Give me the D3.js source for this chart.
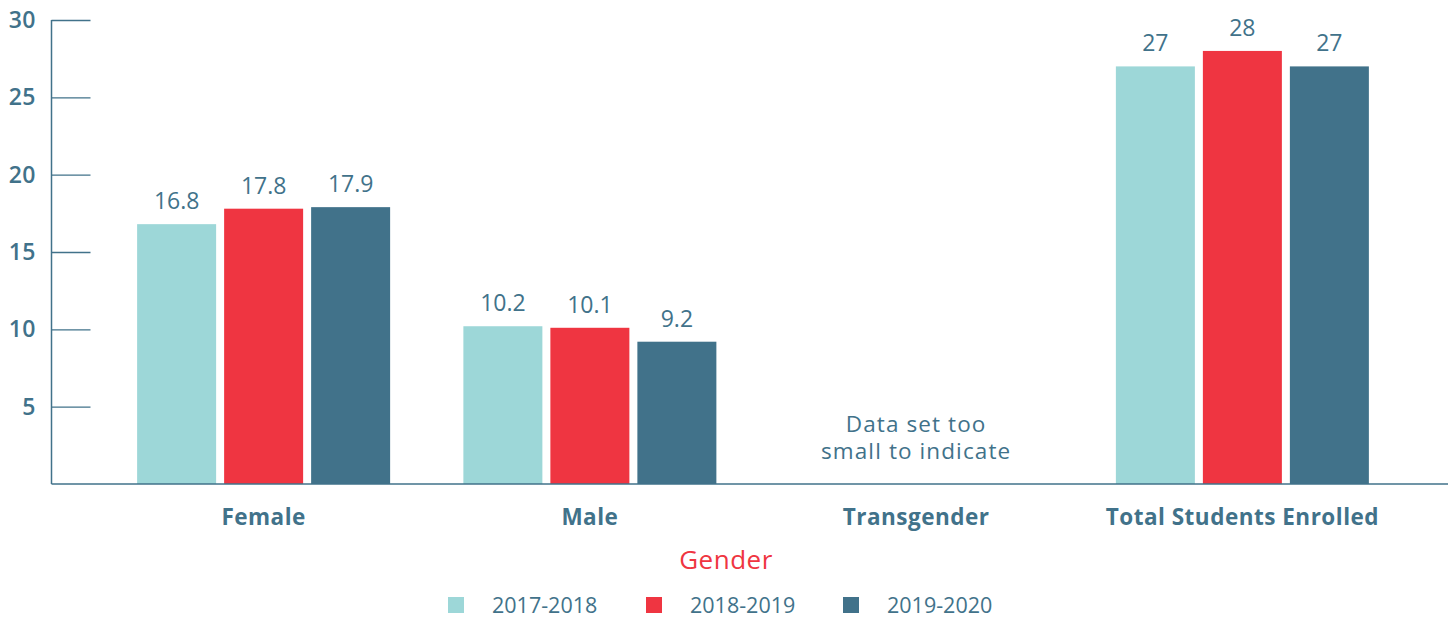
<!DOCTYPE html>
<meta charset="utf-8">
<script src="https://d3js.org/d3.v7.min.js"></script>
<style>
  body { margin: 0; background: #fff; }
  text { font-family: "Open Sans", "Lato", sans-serif; }
</style>
<body>
<div id="chart"></div>
<script>
// chart values
var categories = ["Female", "Male", "Transgender", "Total Students Enrolled"];
var years = ["2017-2018", "2018-2019", "2019-2020"];
var values2017 = [16.8, 10.2, null, 27];
var values2018 = [17.8, 10.1, null, 28];
var values2019 = [17.9, 9.2, null, 27];
var yTicks = [5, 10, 15, 20, 25, 30];
var noDataNote = ["Data set too", "small to indicate"];

var colors = ["#9dd7d8", "#ef3541", "#41728a"];
var textColor = "#41728a";

var W = 1448, H = 617;
var axisX = 51.5, baseY = 484, topY = 20;

var svg = d3.select("#chart").append("svg")
    .attr("width", W)
    .attr("height", H);

var series = [values2017, values2018, values2019];
var data = categories.map(function(c, i) {
  return { cat: c, vals: series.map(function(s, j) { return { year: years[j], v: s[i] }; }) };
});

// scales
var y = d3.scaleLinear().domain([0, 30]).range([baseY, topY]);
var x0 = d3.scaleBand().domain(categories).range([100.5, 1405.5]).padding(0);
var x1 = d3.scaleBand().domain(years)
    .range([(x0.bandwidth() - 253) / 2, (x0.bandwidth() + 253) / 2])
    .paddingInner(8 / 87).paddingOuter(0);
var color = d3.scaleOrdinal().domain(years).range(colors);

// y axis: ticks drawn to the right of the line, labels to the left
var yAxis = svg.append("g")
    .attr("transform", "translate(" + axisX + ",0)")
    .call(d3.axisRight(y).tickValues(yTicks).tickSize(39).tickFormat(""));
yAxis.select(".domain").remove();
yAxis.selectAll("line").attr("stroke", textColor).attr("stroke-width", 1.3);

svg.selectAll(".ylab")
  .data(yTicks)
  .enter().append("text")
    .attr("x", 36)
    .attr("y", function(d) { return y(d) + 8; })
    .attr("text-anchor", "end")
    .attr("fill", textColor)
    .style("font-size", "23px")
    .style("font-weight", 600)
    .style("letter-spacing", "0.5px")
    .text(function(d) { return d; });

// bars
var groups = svg.selectAll(".grp")
  .data(data)
  .enter().append("g")
    .attr("transform", function(d) { return "translate(" + x0(d.cat) + ",0)"; });

groups.selectAll("rect")
  .data(function(d) { return d.vals.filter(function(v) { return v.v != null; }); })
  .enter().append("rect")
    .attr("x", function(d) { return x1(d.year); })
    .attr("y", function(d) { return y(d.v); })
    .attr("width", x1.bandwidth())
    .attr("height", function(d) { return baseY - y(d.v); })
    .attr("fill", function(d) { return color(d.year); });

groups.selectAll(".val")
  .data(function(d) { return d.vals.filter(function(v) { return v.v != null; }); })
  .enter().append("text")
    .attr("x", function(d) { return x1(d.year) + x1.bandwidth() / 2; })
    .attr("y", function(d) { return y(d.v) - 15; })
    .attr("text-anchor", "middle")
    .attr("fill", textColor)
    .style("font-size", "23px")
    .text(function(d) { return d.v; });

// note for missing category
svg.append("text")
    .attr("x", x0("Transgender") + x0.bandwidth() / 2)
    .attr("y", 432)
    .attr("text-anchor", "middle")
    .attr("fill", textColor)
    .style("font-size", "22.5px")
    .style("letter-spacing", "1.1px")
  .selectAll("tspan")
  .data(noDataNote)
  .enter().append("tspan")
    .attr("x", x0("Transgender") + x0.bandwidth() / 2)
    .attr("dy", function(d, i) { return i ? 27 : 0; })
    .text(function(d) { return d; });

// axis lines
svg.append("line")
    .attr("x1", axisX).attr("x2", axisX)
    .attr("y1", topY).attr("y2", baseY)
    .attr("stroke", textColor).attr("stroke-width", 1.5);
svg.append("line")
    .attr("x1", axisX).attr("x2", W)
    .attr("y1", baseY).attr("y2", baseY)
    .attr("stroke", textColor).attr("stroke-width", 1.5);

// category labels
svg.selectAll(".cat")
  .data(categories)
  .enter().append("text")
    .attr("x", function(d) { return x0(d) + x0.bandwidth() / 2; })
    .attr("y", 525)
    .attr("text-anchor", "middle")
    .attr("fill", textColor)
    .style("font-size", "22.5px")
    .style("font-weight", 700)
    .style("letter-spacing", "0.5px")
    .text(function(d) { return d; });

// axis title
svg.append("text")
    .attr("x", 726)
    .attr("y", 569)
    .attr("text-anchor", "middle")
    .attr("fill", "#ef3541")
    .style("font-size", "26px")
    .style("letter-spacing", "0.5px")
    .text("Gender");

// legend
var legendX = [448, 646, 843];
var legend = svg.selectAll(".leg")
  .data(years)
  .enter().append("g")
    .attr("transform", function(d, i) { return "translate(" + legendX[i] + ",597)"; });
legend.append("rect")
    .attr("width", 16).attr("height", 16)
    .attr("fill", function(d) { return color(d); });
legend.append("text")
    .attr("x", 44)
    .attr("y", 15.5)
    .attr("fill", textColor)
    .style("font-size", "21.5px")
    .text(function(d) { return d; });
</script>
</body>
